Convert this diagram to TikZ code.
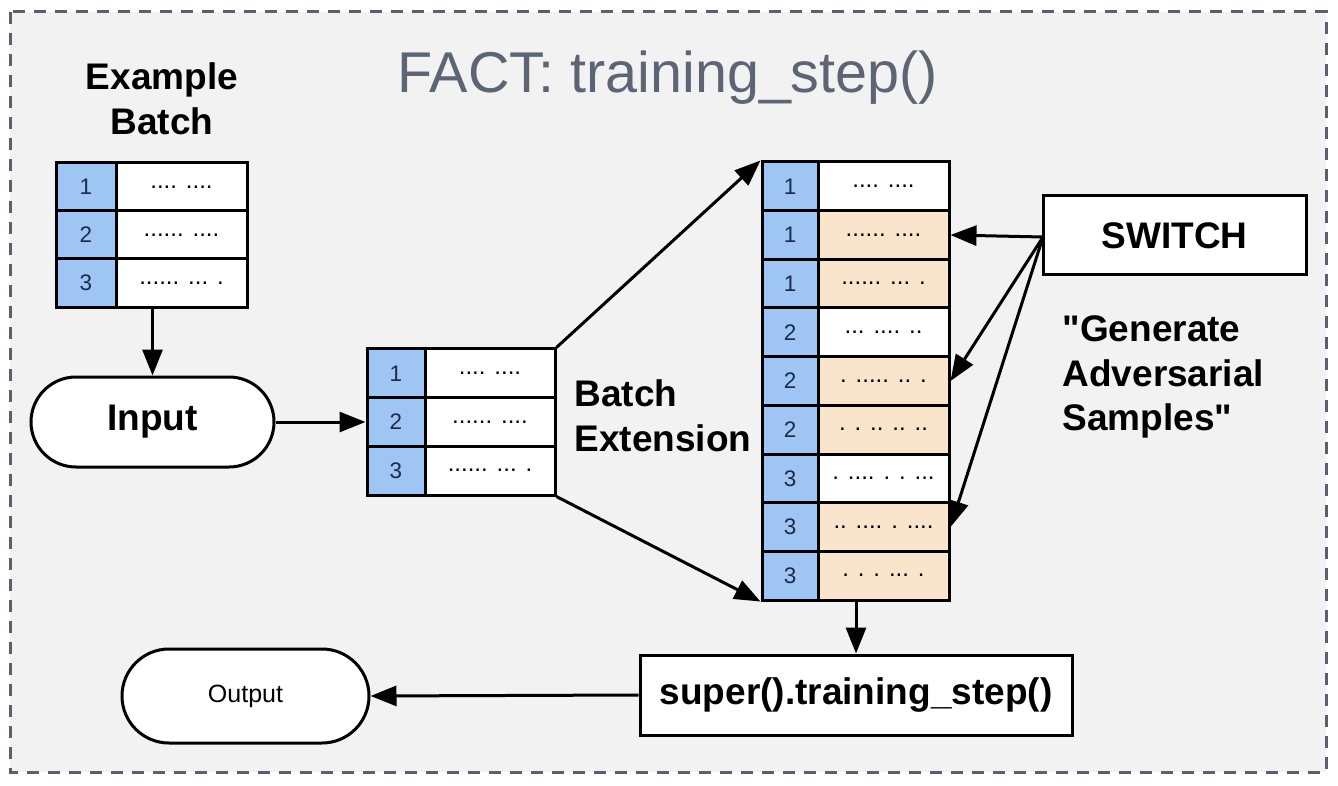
\documentclass[tikz,border=0pt]{standalone}
\usepackage{fontspec}
\setmainfont{Liberation Sans}[Ligatures=TeXOff]
\usetikzlibrary{arrows.meta}
\definecolor{bgc}{HTML}{F2F2F2}
\definecolor{framec}{HTML}{5A6070}
\definecolor{titlec}{HTML}{5D6575}
\definecolor{bluec}{HTML}{9FC5F5}
\definecolor{peachc}{HTML}{F9E4CC}
\definecolor{numc}{HTML}{1C2B4A}
\tikzset{
  x=1pt, y=-1pt,
  cell/.style={draw=black, line width=3pt, rectangle, inner sep=0pt, minimum height=48.7pt},
  numcell/.style={cell, fill=bluec, minimum width=57pt, text=numc, font=\fontsize{22.5}{24}\selectfont},
  txtcell/.style={cell, fill=white, minimum width=131pt, font=\fontsize{24}{26}\selectfont},
  advcell/.style={txtcell, fill=peachc},
  oval/.style={draw=black, line width=3pt, fill=white, rectangle, rounded corners=45pt, inner sep=0pt},
  box/.style={draw=black, line width=3pt, fill=white, rectangle, inner sep=0pt},
  bigbold/.style={font=\fontsize{37}{44.5}\selectfont\bfseries},
  conn/.style={line width=3pt, -{Triangle[length=26pt,width=20pt]}},
}
\begin{document}
\begin{tikzpicture}
\useasboundingbox (0,0) rectangle (1338,786);
\fill[white] (0,0) rectangle (1338,786);
\fill[bgc] (10,12) rectangle (1326,772);
\draw[framec, line width=3pt, dash pattern=on 12pt off 9pt] (10,12) rectangle (1326,772);

\node[text=titlec, font=\fontsize{57.5}{60}\selectfont] (title) at (668,78) {FACT: training\_step()};

\node[bigbold, align=center] (exlabel) at (162,99) {Example\\Batch};

% example batch
\node[numcell, minimum height=48pt, minimum width=60pt] (ex1n) at (86,187) {1};
\node[txtcell, minimum height=48pt] (ex1t) at (181.5,187) {.... ....};
\node[numcell, minimum height=48pt, minimum width=60pt] (ex2n) at (86,235) {2};
\node[txtcell, minimum height=48pt] (ex2t) at (181.5,235) {...... ....};
\node[numcell, minimum height=48pt, minimum width=60pt] (ex3n) at (86,283) {3};
\node[txtcell, minimum height=48pt] (ex3t) at (181.5,283) {...... ... .};

\node[oval, minimum width=243pt, minimum height=90pt, bigbold] (input) at (152.5,422) {Input};

% middle batch
\node[numcell, minimum width=58pt] (m1n) at (396,373.3) {1};
\node[txtcell, minimum width=130pt] (m1t) at (490,373.3) {.... ....};
\node[numcell, minimum width=58pt] (m2n) at (396,422) {2};
\node[txtcell, minimum width=130pt] (m2t) at (490,422) {...... ....};
\node[numcell, minimum width=58pt] (m3n) at (396,470.7) {3};
\node[txtcell, minimum width=130pt] (m3t) at (490,470.7) {...... ... .};

\node[bigbold, align=left, anchor=west] (extlabel) at (571,416) {Batch\\Extension};

% extended batch
\foreach \i/\n/\s/\t in {1/1/txtcell/{.... ....}, 2/1/advcell/{...... ....}, 3/1/advcell/{...... ... .},
  4/2/txtcell/{... .... ..}, 5/2/advcell/{. ..... .. .}, 6/2/advcell/{. . .. .. ..},
  7/3/txtcell/{. .... . . ...}, 8/3/advcell/{.. .... . ....}, 9/3/advcell/{. . . ... .}}{
  \node[numcell, minimum width=56pt] (r\i n) at (790,{162+48.67*(\i-0.5)}) {\n};
  \node[\s] (r\i t) at (883.5,{162+48.67*(\i-0.5)}) {\t};
}

\node[box, minimum width=263pt, minimum height=79pt, bigbold] (switch) at (1174.5,235.5) {SWITCH};
\coordinate (swout) at (1043,237);
\node[bigbold, align=left, anchor=west] (genlabel) at (1059,377) {"Generate\\Adversarial\\Samples"};

\node[box, minimum width=432pt, minimum height=80pt, bigbold] (super) at (856,695) {super().training\_step()};
\node[oval, rounded corners=47pt, minimum width=247pt, minimum height=94pt, font=\fontsize{25}{28}\selectfont] (output) at (245.5,696) {Output};

% connectors
\draw[conn] (ex3t.south -| input.north) -- (input.north);
\draw[conn] (input.east) -- (m2n.west);
\draw[conn] (m1t.north east) -- (r1n.north west);
\draw[conn] (m3t.south east) -- (r9n.south west);
\draw[conn] (swout) -- (r2t.east);
\draw[conn] (swout) -- (r5t.east);
\draw[conn] (swout) -- (r8t.east);
\draw[conn] (r9t.south -| super.north) -- (super.north);
\draw[conn] (super.west) -- (output.east);
\end{tikzpicture}
\end{document}
